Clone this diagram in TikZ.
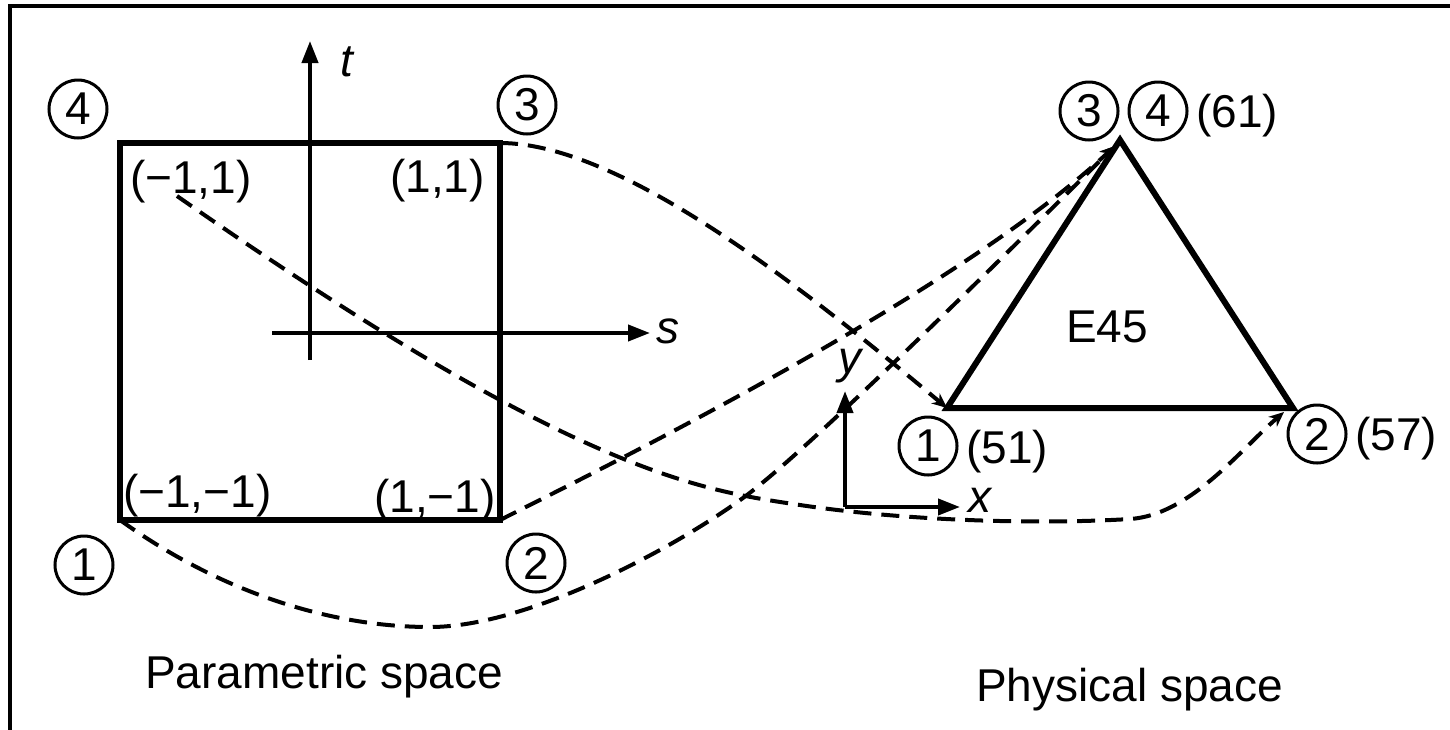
\documentclass[tikz,border=0pt]{standalone}
\usepackage{fontspec}
\setmainfont{Liberation Sans}
\usetikzlibrary{arrows.meta}
\begin{document}
\begin{tikzpicture}[x=1pt,y=-1pt,
  every node/.style={font=\fontsize{46}{52}\selectfont, inner sep=0pt},
  num/.style={circle,draw,line width=3pt,minimum size=58pt},
  lbl/.style={anchor=base west},
  sqedge/.style={line width=6pt,line join=miter},
  axisarrow/.style={line width=4pt,-{Triangle[length=22pt,width=16pt]}},
  mapcurve/.style={line width=4pt,dash pattern=on 18pt off 10pt,-{Stealth[length=15pt,width=13pt]}}]
\useasboundingbox (0,0) rectangle (1450,729);
% frame
\draw[line width=4pt] (10,760) -- (10,6) -- (1470,6);
% parametric square
\coordinate (q1) at (120,520);
\coordinate (q2) at (500,520);
\coordinate (q3) at (500,143);
\coordinate (q4) at (120,143);
\draw[sqedge] (q1) -- (q2) -- (q3) -- (q4) -- cycle;
% s-t axes
\coordinate (sTail) at (272,333);
\coordinate (sTip) at (650,333);
\coordinate (tTail) at (310,360);
\coordinate (tTip) at (310,41);
\draw[axisarrow] (sTail) -- (sTip);
\draw[axisarrow] (tTail) -- (tTip);
\node (slab) at (668,331) {\itshape s};
\node (tlab) at (347,62) {\itshape t};
% corner labels
\node[lbl] (c4) at (130,193) {(−1,1)};
\node[lbl] (c3) at (390,192) {(1,1)};
\node[lbl] (c1) at (123,507) {(−1,−1)};
\node[lbl] (c2) at (374,512) {(1,−1)};
\node[num] (L4) at (78,109) {4};
\node[num] (L3) at (527,105) {3};
\node[num] (L1) at (84,565) {1};
\node[num] (L2) at (536,563) {2};
\node[lbl] (ptitle) at (145,688) {Parametric space};
% physical triangle
\coordinate (T1) at (947,408);
\coordinate (T2) at (1293,408);
\coordinate (T3) at (1120,140);
\draw[sqedge] (T1) -- (T2) -- (T3) -- cycle;
\node[lbl] (elab) at (1066,342) {E45};
\node[num] (R3) at (1089,111) {3};
\node[num] (R4) at (1158,111) {4};
\node[lbl] (n61) at (1196,127) {(61)};
\node[num] (R1) at (928,446) {1};
\node[lbl] (n51) at (966,463) {(51)};
\node[num] (R2) at (1317,434) {2};
\node[lbl] (n57) at (1355,450) {(57)};
\node[lbl] (qtitle) at (976,701) {Physical space};
% x-y axes
\coordinate (O) at (845,507);
\coordinate (xTip) at (960,507);
\coordinate (yTip) at (845,391);
\draw[axisarrow] (O) -- (xTip);
\draw[axisarrow] (O) -- (yTip);
\node (xlab) at (980,500) {\itshape x};
\node (ylab) at (850,366) {\itshape y};
% mapping curves
\coordinate (bStart) at (177,196);
\coordinate (T2in) at (1284,412);
\coordinate (T3in) at (1115,146);
\draw[mapcurve] (q3) .. controls (620,143) and (800,285) .. (T1);
\draw[mapcurve] (bStart) .. controls (577,475) and (700,490) .. (800,505)
  .. controls (900,520) and (1030,525) .. (1130,519)
  .. controls (1190,515) and (1240,450) .. (T2in);
\draw[mapcurve] (q2) .. controls (660,440) and (968,283) .. (T3in);
\draw[mapcurve] (q1) .. controls (220,592) and (330,627) .. (430,627)
  .. controls (530,627) and (680,545) .. (747,495)
  .. controls (820,440) and (1040,220) .. (T3in);
\end{tikzpicture}
\end{document}
